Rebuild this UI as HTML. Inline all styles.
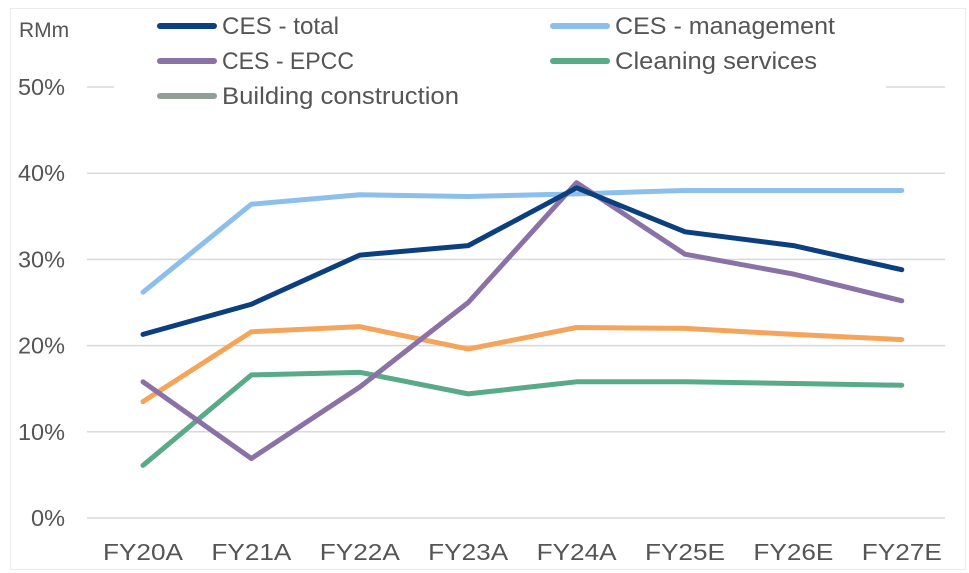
<!DOCTYPE html>
<html><head><meta charset="utf-8"><style>
html,body{margin:0;padding:0;background:#fff;}
svg{display:block;font-family:"Liberation Sans",sans-serif;}
</style></head><body>
<svg id="chart" width="969" height="573" xmlns="http://www.w3.org/2000/svg">
<rect x="10.5" y="8.5" width="955" height="561" fill="#fff" stroke="#ececec"/>
<g id="grid"></g><g id="lines"></g><g id="axes"></g>
<rect x="114" y="10" width="772" height="105" fill="#fff"/>
<text x="19" y="37" font-size="21" fill="#555">RMm</text>
<g id="legend"></g>
</svg>
<script>
const categories=["FY20A","FY21A","FY22A","FY23A","FY24A","FY25E","FY26E","FY27E"];
const yTicks=[0,10,20,30,40,50];
const cesTotal=[21.3,24.8,30.5,31.6,38.3,33.2,31.6,28.8];
const cesManagement=[26.2,36.4,37.5,37.3,37.6,38.0,38.0,38.0];
const cesEpcc=[15.8,6.9,15.2,25.0,38.9,30.6,28.3,25.2];
const cleaning=[6.1,16.6,16.9,14.4,15.8,15.8,15.6,15.4];
const building=[13.5,21.6,22.2,19.6,22.1,22.0,21.3,20.7];
const ns="http://www.w3.org/2000/svg";
const x=i=>143+i*108.4;
const y=v=>518-v*8.62;
function mk(t,a,p){const e=document.createElementNS(ns,t);for(const k in a)e.setAttribute(k,a[k]);p.appendChild(e);return e;}
const grid=document.getElementById('grid'),axes=document.getElementById('axes'),lines=document.getElementById('lines'),legend=document.getElementById('legend');
yTicks.forEach(v=>{
  const l=mk('line',{x1:87,x2:945,y1:y(v),y2:y(v),stroke:'#d9d9d9','stroke-width':1.5},grid);
  
  
  const t=mk('text',{x:65,y:y(v)+8,'text-anchor':'end','font-size':23,fill:'#555',textLength:String(v).length*13+21,lengthAdjust:'spacingAndGlyphs'},axes);
  t.textContent=v+'%';
  
  
});
categories.forEach((c,i)=>{
  const t=mk('text',{x:x(i),y:560,'text-anchor':'middle','font-size':23,fill:'#555',textLength:80,lengthAdjust:'spacingAndGlyphs'},axes);
  t.textContent=c;
  
  
});
const series=[
  {n:'building-construction',d:building,c:'#f4a55b'},
  {n:'cleaning-services',d:cleaning,c:'#58aa88'},
  {n:'ces-management',d:cesManagement,c:'#8dbfeb'},
  {n:'ces-epcc',d:cesEpcc,c:'#8a72a6'},
  {n:'ces-total',d:cesTotal,c:'#0c3f7e'}
];
series.forEach(s=>{
  const p=mk('polyline',{points:s.d.map((v,i)=>x(i)+','+y(v)).join(' '),fill:'none',stroke:s.c,'stroke-width':5,'stroke-linejoin':'round','stroke-linecap':'round'},lines);
  
  
});
const leg=[
  {t:'CES - total',c:'#0c3f7e',x:160,y:26,w:117},
  {t:'CES - management',c:'#8dbfeb',x:553,y:26,w:220},
  {t:'CES - EPCC',c:'#8a72a6',x:160,y:61,w:132},
  {t:'Cleaning services',c:'#58aa88',x:553,y:61,w:202},
  {t:'Building construction',c:'#909e96',x:160,y:96,w:237}
];
leg.forEach(l=>{
  const g=mk('g',{},legend);
  
  
  mk('line',{x1:l.x,x2:l.x+54,y1:l.y,y2:l.y,stroke:l.c,'stroke-width':6,'stroke-linecap':'round'},g);
  const t=mk('text',{x:l.x+62,y:l.y+8,'font-size':24,fill:'#555',textLength:l.w,lengthAdjust:'spacingAndGlyphs'},g);
  t.textContent=l.t;
});
</script>
</body></html>
